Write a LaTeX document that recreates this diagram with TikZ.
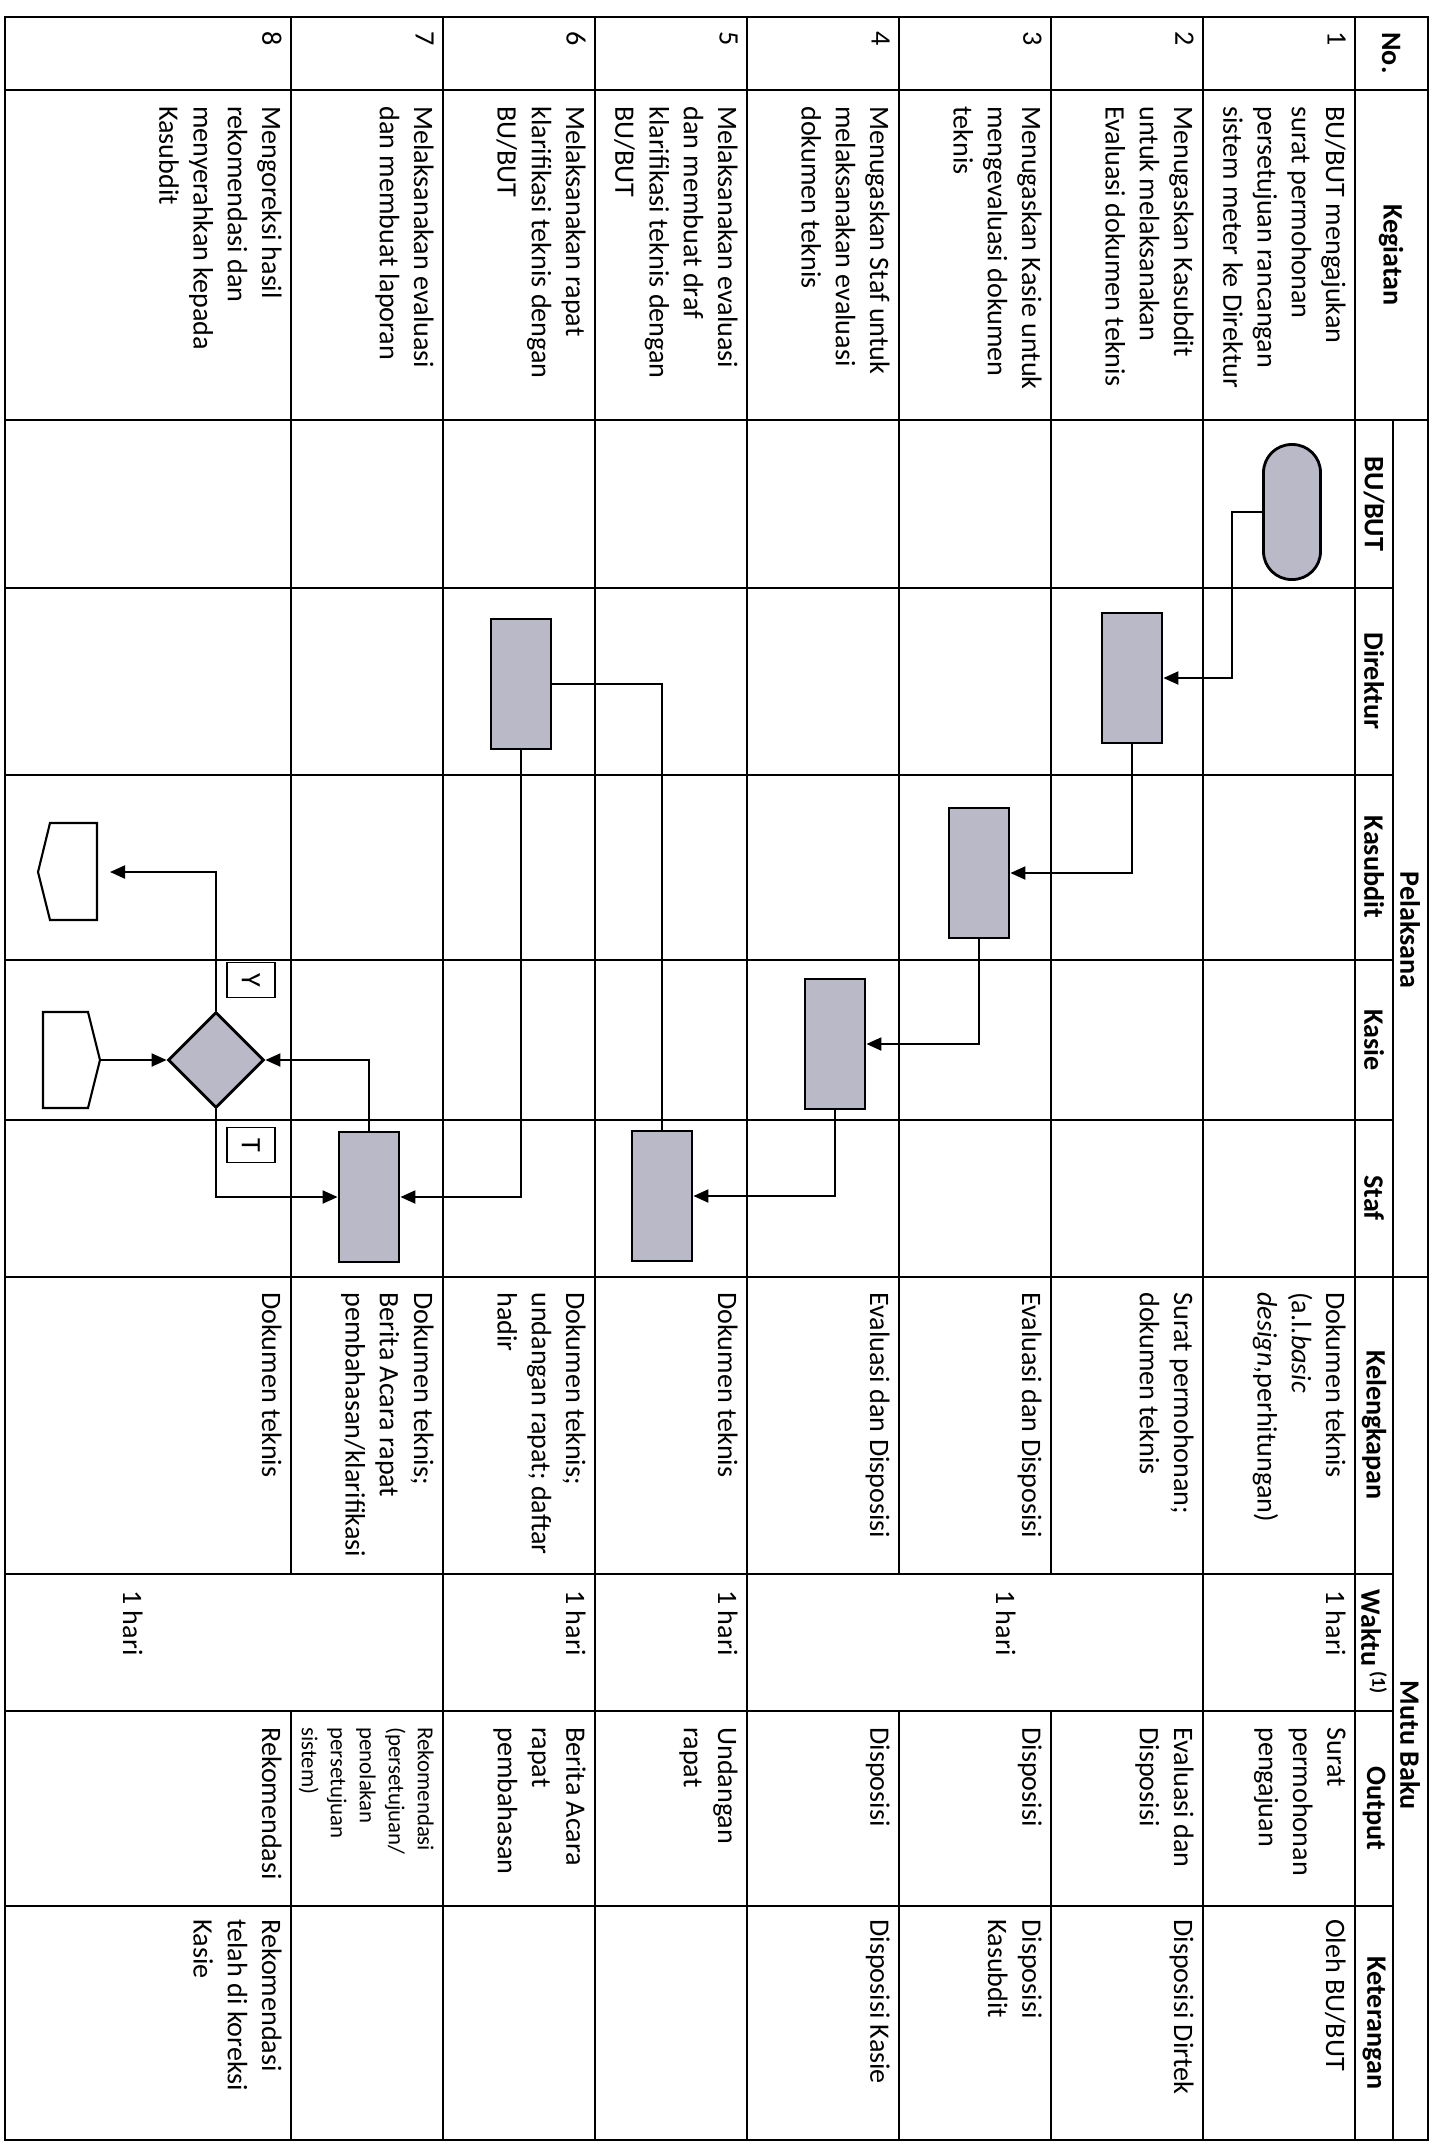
\documentclass[tikz,border=0pt]{standalone}
\usepackage{fontspec}
\setmainfont{Carlito}
\usetikzlibrary{arrows.meta,positioning,shapes.geometric}
\definecolor{isian}{HTML}{B9B9C8}
\newcommand{\isi}{\fontsize{16}{19.5}\selectfont}
\newcommand{\kecil}{\fontsize{13}{16.5}\selectfont}

\begin{document}
\begin{tikzpicture}[x=0.2mm, y=0.2mm,
  garis/.style={line width=1.1pt},
  sel/.style={anchor=north west, inner sep=0pt, align=left, font=\isi},
  kepala/.style={inner sep=0pt, align=center, font=\isi\bfseries},
  proses/.style={draw, line width=1.6pt, fill=isian, minimum width=26mm, minimum height=12mm, inner sep=0pt},
  terminal/.style={draw, line width=1.6pt, fill=isian, rounded corners=5.6mm, minimum width=27mm, minimum height=11.4mm, inner sep=0pt},
  keputusan/.style={draw, diamond, line width=1.6pt, fill=isian, minimum width=19.2mm, minimum height=19.2mm, inner sep=0pt},
  tanda/.style={draw, line width=1.1pt, minimum width=7mm, minimum height=9.6mm, inner sep=0pt, font=\isi},
  konektor/.style={draw, line width=1.2pt},
  alur/.style={line width=1.2pt, -{Triangle[length=3mm, width=2.6mm]}}]

\useasboundingbox (0,0) rectangle (1443,-2147);
\fill[white] (0,0) rectangle (1443,-2147);

\begin{scope}[rotate=-90, transform shape]
% garis tabel
\draw[garis] (17,5) rectangle (2140,1428);
\foreach \x in {90,420,1277} \draw[garis] (\x,5) -- (\x,1428);
\foreach \x in {588,775,960,1120,1574,1711,1906} \draw[garis] (\x,5) -- (\x,1393);
\draw[garis] (420,1393) -- (2140,1393);
\foreach \y in {1355,1203,747,595,443} \draw[garis] (17,\y) -- (2140,\y);
\foreach \y in {1051,899,291} {
  \draw[garis] (17,\y) -- (1574,\y);
  \draw[garis] (1711,\y) -- (2140,\y);
}

% kepala tabel
\node[kepala] (hNo) at (53,1391) {No.};
\node[kepala] (hKeg) at (255,1391) {Kegiatan};
\node[kepala] (hPel) at (930,1410) {Pelaksana};
\node[kepala] (hBu) at (504,1374) {BU/BUT};
\node[kepala] (hDir) at (681,1374) {Direktur};
\node[kepala] (hKsd) at (867,1374) {Kasubdit};
\node[kepala] (hKsi) at (1040,1374) {Kasie};
\node[kepala] (hStf) at (1198,1374) {Staf};
\node[kepala] (hMutu) at (1745,1410) {Mutu Baku};
\node[kepala] (hKel) at (1425,1374) {Kelengkapan};
\node[kepala] (hWkt) at (1642,1374) {Waktu\,\textsuperscript{(1)}};
\node[kepala] (hOut) at (1808,1374) {Output};
\node[kepala] (hKet) at (2023,1374) {Keterangan};

% nomor dan kegiatan
\node[sel] (n1) at (31,1346) {1};
\node[sel] (n2) at (31,1194) {2};
\node[sel] (n3) at (31,1042) {3};
\node[sel] (n4) at (31,890) {4};
\node[sel] (n5) at (31,738) {5};
\node[sel] (n6) at (31,586) {6};
\node[sel] (n7) at (31,434) {7};
\node[sel] (n8) at (31,282) {8};
\node[sel] (k1) at (106,1346) {BU/BUT mengajukan\\surat permohonan\\persetujuan rancangan\\sistem meter ke Direktur};
\node[sel] (k2) at (106,1194) {Menugaskan Kasubdit\\untuk melaksanakan\\Evaluasi dokumen teknis};
\node[sel] (k3) at (106,1042) {Menugaskan Kasie untuk\\mengevaluasi dokumen\\teknis};
\node[sel] (k4) at (106,890) {Menugaskan Staf untuk\\melaksanakan evaluasi\\dokumen teknis};
\node[sel] (k5) at (106,738) {Melaksanakan evaluasi\\dan membuat draf\\klarifikasi teknis dengan\\BU/BUT};
\node[sel] (k6) at (106,586) {Melaksanakan rapat\\klarifikasi teknis dengan\\BU/BUT};
\node[sel] (k7) at (106,434) {Melaksanakan evaluasi\\dan membuat laporan};
\node[sel] (k8) at (106,282) {Mengoreksi hasil\\rekomendasi dan\\menyerahkan kepada\\Kasubdit};

% kelengkapan
\node[sel] (l1) at (1292,1346) {Dokumen teknis\\(a.l.\textit{basic}\\\textit{design},perhitungan)};
\node[sel] (l2) at (1292,1194) {Surat permohonan;\\dokumen teknis};
\node[sel] (l3) at (1292,1042) {Evaluasi dan Disposisi};
\node[sel] (l4) at (1292,890) {Evaluasi dan Disposisi};
\node[sel] (l5) at (1292,738) {Dokumen teknis};
\node[sel] (l6) at (1292,586) {Dokumen teknis;\\undangan rapat; daftar\\hadir};
\node[sel] (l7) at (1292,434) {Dokumen teknis;\\Berita Acara rapat\\pembahasan/klarifikasi};
\node[sel] (l8) at (1292,282) {Dokumen teknis};

% waktu
\node[sel] (w1) at (1590,1346) {1 hari};
\node[sel] (w2) at (1590,1016) {1 hari};
\node[sel] (w5) at (1590,738) {1 hari};
\node[sel] (w6) at (1590,586) {1 hari};
\node[sel] (w7) at (1590,143) {1 hari};

% output
\node[sel] (o1) at (1727,1346) {Surat\\permohonan\\pengajuan};
\node[sel] (o2) at (1727,1194) {Evaluasi dan\\Disposisi};
\node[sel] (o3) at (1727,1042) {Disposisi};
\node[sel] (o4) at (1727,890) {Disposisi};
\node[sel] (o5) at (1727,738) {Undangan\\rapat};
\node[sel] (o6) at (1727,586) {Berita Acara\\rapat\\pembahasan};
\node[sel, font=\kecil] (o7) at (1727,434) {Rekomendasi\\(persetujuan/\\penolakan\\persetujuan\\sistem)};
\node[sel] (o8) at (1727,282) {Rekomendasi};

% keterangan
\node[sel] (t1) at (1919,1346) {Oleh BU/BUT};
\node[sel] (t2) at (1919,1194) {Disposisi Dirtek};
\node[sel] (t3) at (1919,1042) {Disposisi\\Kasubdit};
\node[sel] (t4) at (1919,890) {Disposisi Kasie};
\node[sel] (t8) at (1919,282) {Rekomendasi\\telah di koreksi\\Kasie};

% bagan alir
\node[terminal] (mulai) at (512,1292) {};
\node[proses] (dir2) at (678,1132) {};
\node[proses] (ksd3) at (873,979) {};
\node[proses] (ksi4) at (1044,835) {};
\node[proses] (stf5) at (1196,662) {};
\node[proses] (dir6) at (684,521) {};
\node[proses] (stf7) at (1197,369) {};
\node[keputusan] (cek) at (1060,216) {};
\node[tanda] (ya) at (980,251) {Y};
\node[tanda] (tidak) at (1145,251) {T};
\draw[konektor] (823,97) -- (920,97) -- (920,50) -- (872,38) -- (823,50) -- cycle;
\coordinate (konOut) at (872,97);
\draw[konektor] (1012,43) -- (1108,43) -- (1108,88) -- (1060,100) -- (1012,88) -- cycle;
\coordinate (konIn) at (1060,100);

\draw[alur] (mulai.south) -- ++(0,-30) -| (dir2.north);
\draw[alur] (dir2.east) -| (ksd3.north);
\draw[alur] (ksd3.east) -| (ksi4.north);
\draw[alur] (ksi4.east) -| (stf5.north);
\draw[line width=1.2pt] (stf5.west) -| (dir6.north);
\draw[alur] (dir6.east) -| (stf7.north);
\draw[alur] (stf7.west) -| (cek.north);
\draw[alur] (konIn) -- (cek.south);
\draw[alur, shorten >=2.6mm] (cek.west) -| (konOut);
\draw[alur] (cek.east) -| (stf7.south);
\end{scope}
\end{tikzpicture}
\end{document}
